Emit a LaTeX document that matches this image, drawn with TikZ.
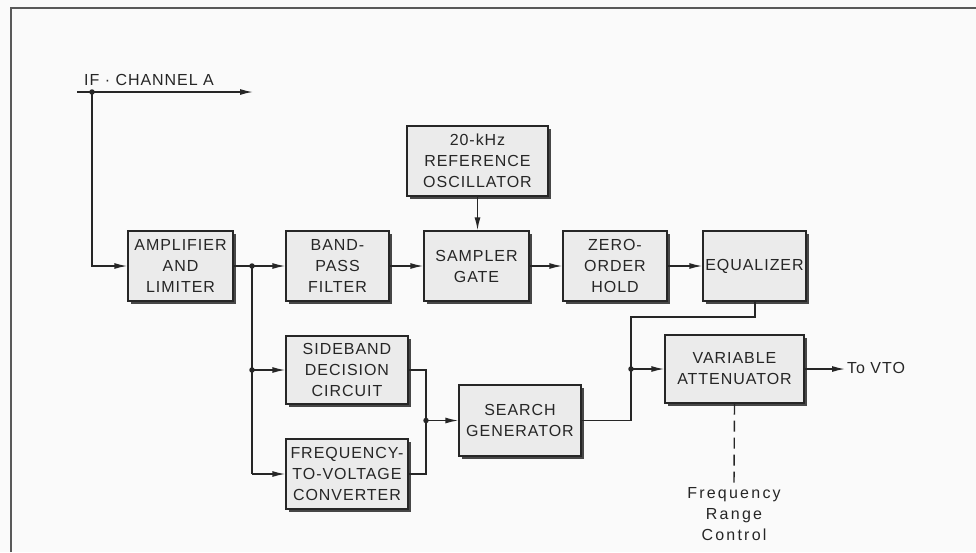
\documentclass[tikz,border=0pt]{standalone}
\usepackage{fontspec}
\setmainfont{Liberation Sans}[LetterSpace=6]
\newfontfamily\widefont{Liberation Sans}[LetterSpace=14]
\usetikzlibrary{arrows.meta,shadows}
\definecolor{ink}{HTML}{262626}
\definecolor{boxfill}{HTML}{EBEBEB}
\definecolor{bg}{HTML}{FAFAFA}
\tikzset{
  blk/.style={draw=ink, line width=1.4pt, fill=boxfill, inner sep=0pt, align=center,
    text=ink, font=\fontsize{16}{21}\selectfont,
    drop shadow={shadow xshift=3pt, shadow yshift=-3pt, fill=ink!85, opacity=1}},
  wire/.style={draw=ink, line width=1.4pt},
  arr/.style={wire, -{Latex[length=13pt,width=6pt]}},
  dot/.style={circle, fill=ink, inner sep=0pt, minimum size=5.5pt},
  lbl/.style={text=ink, font=\fontsize{16}{21}\selectfont, inner sep=0pt}
}
\begin{document}
\begin{tikzpicture}[x=1pt,y=-1pt]
\fill[bg] (0,0) rectangle (976,552);
\useasboundingbox (0,0) rectangle (976,552);
% frame
\draw[gray!70!black, line width=2pt] (11,552) -- (11,8) -- (976,8);

% blocks
\node[blk, minimum width=105pt, minimum height=70pt] (amp) at (180.5,266) {AMPLIFIER\\AND\\LIMITER};
\node[blk, minimum width=103pt, minimum height=70pt] (bpf) at (337.5,266) {BAND-\\PASS\\FILTER};
\node[blk, minimum width=141pt, minimum height=70pt] (osc) at (477.5,161) {20-kHz\\REFERENCE\\OSCILLATOR};
\node[blk, minimum width=105pt, minimum height=70pt] (sg) at (476.5,266) {SAMPLER\\GATE};
\node[blk, minimum width=104pt, minimum height=70pt] (zoh) at (615,266) {ZERO-\\ORDER\\HOLD};
\node[blk, minimum width=103pt, minimum height=70pt] (eq) at (754.5,266) {EQUALIZER};
\node[blk, minimum width=122pt, minimum height=68pt] (sdc) at (347,370) {SIDEBAND\\DECISION\\CIRCUIT};
\node[blk, minimum width=122pt, minimum height=70pt] (fv) at (347,474) {FREQUENCY-\\TO-VOLTAGE\\CONVERTER};
\node[blk, minimum width=122pt, minimum height=71pt] (sgen) at (520,420.5) {SEARCH\\GENERATOR};
\node[blk, minimum width=139pt, minimum height=68pt] (va) at (734.5,369) {VARIABLE\\ATTENUATOR};

% input
\coordinate (ifs) at (77,92);
\coordinate (ife) at (253,92);
\node[dot] (d0) at (92,92) {};
\node[lbl, anchor=base west] (iflbl) at (84,85) {IF · CHANNEL A};
\draw[arr] (ifs) -- (ife);
\draw[arr] (d0.center) |- (amp.west);

% main chain
\node[dot] (j1) at (252,266) {};
\draw[arr] (amp.east) -- (bpf.west);
\draw[arr] (bpf.east) -- (sg.west);
\draw[arr] (sg.east) -- (zoh.west);
\draw[arr] (zoh.east) -- (eq.west);
\draw[arr] (osc.south) -- (osc.south |- sg.north);

% lower branch
\node[dot] (j1b) at (252,370) {};
\coordinate (j1c) at (252,474);
\draw[wire] (j1.center) -- (j1c);
\draw[arr] (j1b.center) -- (sdc.west);
\draw[arr] (j1c) -- (fv.west);

\coordinate (m1) at (426,370);
\coordinate (m2) at (426,474);
\node[dot] (j2) at (426,420.5) {};
\draw[wire] (sdc.east) -- (m1) -- (m2) -- (fv.east);
\draw[arr] (j2.center) -- (sgen.west);

\coordinate (r1) at (631,420.5);
\coordinate (r2) at (631,317);
\coordinate (r3) at (755,317);
\node[dot] (j3) at (631,369) {};
\draw[wire] (sgen.east) -- (r1) -- (r2) -- (r3) -- (eq.south -| r3);
\draw[arr] (j3.center) -- (va.west);

% output
\coordinate (vto) at (845,369);
\draw[arr] (va.east) -- (vto);
\node[lbl, anchor=west] (vtolbl) at (847,368) {To VTO};

% control
\coordinate (ctl) at (734,483);
\draw[wire, dash pattern=on 11pt off 6pt] (va.south) -- (ctl);
\node[lbl, anchor=north, align=center, font=\widefont\fontsize{16}{21}\selectfont] (frc) at (734,487) {Frequency\\Range\\Control};
\end{tikzpicture}
\end{document}
